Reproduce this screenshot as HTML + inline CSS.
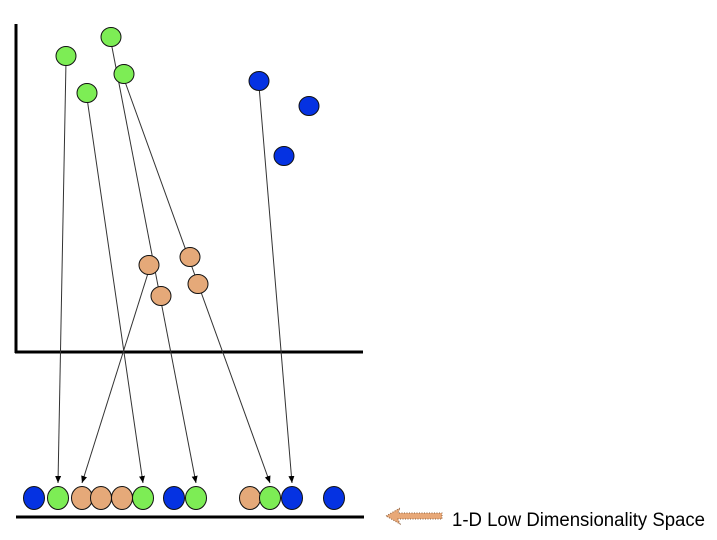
<!DOCTYPE html>
<html><head><meta charset="utf-8"><style>
html,body{margin:0;padding:0;background:#fff;}
svg{display:block;}
</style></head><body>
<svg id="chart" width="717" height="540" viewBox="0 0 717 540" xmlns="http://www.w3.org/2000/svg">
<defs>
<marker id="ah" markerWidth="8" markerHeight="8" refX="7" refY="4" orient="auto" markerUnits="userSpaceOnUse">
<path d="M0,1 L7,4 L0,7 Z" fill="#000"/>
</marker>
</defs>
<line x1="16" y1="24" x2="16" y2="353" stroke="#000" stroke-width="3"/>
<line x1="15" y1="352" x2="363" y2="352" stroke="#000" stroke-width="3"/>
<line x1="16" y1="517" x2="364" y2="517" stroke="#000" stroke-width="3"/>
<g id="lines"></g>
<g id="pts"></g>
<g id="row"></g>
<g>
<path d="M386,516 L400,508 L398,513 L442,513 L442,519 L398,519 L400,524 Z" fill="#e8a878" stroke="#8a6040" stroke-width="1" stroke-dasharray="1,1.5"/>
</g>
<text x="452" y="526" font-family="Liberation Sans, sans-serif" font-size="19" textLength="253" lengthAdjust="spacingAndGlyphs" fill="#000">1-D Low Dimensionality Space</text>
</svg>
<script>
const colors = {g:'#7ded55', b:'#0532e2', o:'#e5a979'};
// 2-D points: class, x, y
const ptClass = ['g','g','g','g','b','b','b','o','o','o','o'];
const ptX = [66,111,124,87,259,309,284,149,190,161,198];
const ptY = [56,37,74,93,81,106,156,265,257,296,284];
// 1-D projected row
const rowClass = ['b','g','o','o','o','g','b','g','o','g','b','b'];
const rowX = [34,58,82,101,122,143,174,196,250,270,292,334];
const rowY = 498;
// projection lines: from point index to row index
const lineFrom = [0,3,1,2,4,7];
const lineTo = [1,5,7,9,10,2];

const NS='http://www.w3.org/2000/svg';
const L=document.getElementById('lines'), P=document.getElementById('pts'), R=document.getElementById('row');
for(let i=0;i<lineFrom.length;i++){
  const a=lineFrom[i], b=lineTo[i];
  const x1=ptX[a], y1=ptY[a]+5, x2=rowX[b], y2=rowY-15;
  const ln=document.createElementNS(NS,'line');
  ln.setAttribute('x1',x1);ln.setAttribute('y1',y1);ln.setAttribute('x2',x2);ln.setAttribute('y2',y2);
  ln.setAttribute('stroke','#333');ln.setAttribute('stroke-width','1');ln.setAttribute('marker-end','url(#ah)');
  
  
  L.appendChild(ln);
}
for(let i=0;i<ptX.length;i++){
  const c=document.createElementNS(NS,'ellipse');
  c.setAttribute('cx',ptX[i]);c.setAttribute('cy',ptY[i]);c.setAttribute('rx',10);c.setAttribute('ry',9.5);
  c.setAttribute('fill',colors[ptClass[i]]);c.setAttribute('stroke','#111');c.setAttribute('stroke-width','1');
  
  
  P.appendChild(c);
}
for(let i=0;i<rowX.length;i++){
  const c=document.createElementNS(NS,'ellipse');
  c.setAttribute('cx',rowX[i]);c.setAttribute('cy',rowY);c.setAttribute('rx',10.5);c.setAttribute('ry',11.5);
  c.setAttribute('fill',colors[rowClass[i]]);c.setAttribute('stroke','#111');c.setAttribute('stroke-width','1');
  
  
  R.appendChild(c);
}
</script>
</body></html>
